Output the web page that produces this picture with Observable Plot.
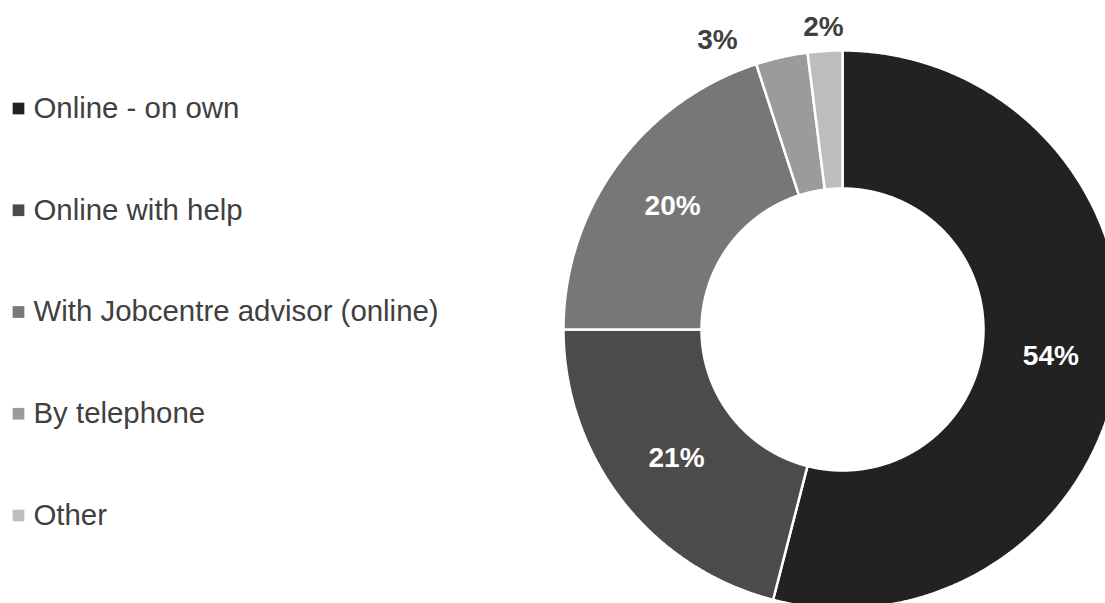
<!DOCTYPE html>
<html><head><meta charset="utf-8">
<script src="https://cdn.jsdelivr.net/npm/d3@7"></script>
<script src="https://cdn.jsdelivr.net/npm/@observablehq/plot@0.6"></script>
<style>body{margin:0;background:#fff;overflow:hidden} svg{display:block}</style>
</head><body><div id="chart"></div>
<script>
// ---- data ----
const categories = ["Online - on own", "Online with help", "With Jobcentre advisor (online)", "By telephone", "Other"];
const shares = [54, 21, 20, 3, 2];
const pctLabels = ["54%", "21%", "20%", "3%", "2%"];
const sliceColors = ["#222222", "#4b4b4b", "#777777", "#9b9b9b", "#bdbdbd"];

// ---- layout ----
const W = 1105, H = 603;
const cx = 842, cy = 329, R = 279, R0 = 141;
const total = d3.sum(shares);
const toXY = (a, r) => [r * Math.sin(a), -r * Math.cos(a)];

// build slices
let acc = 0;
const polys = [];
const labels = [];
shares.forEach((v, i) => {
  const a0 = acc / total * 2 * Math.PI;
  acc += v;
  const a1 = acc / total * 2 * Math.PI;
  const n = Math.max(4, Math.ceil((a1 - a0) / 0.005));
  const pts = [];
  for (let k = 0; k <= n; k++) { const a = a0 + (a1 - a0) * k / n; const [x, y] = toXY(a, R); pts.push({x, y, cat: categories[i], fill: sliceColors[i]}); }
  for (let k = n; k >= 0; k--) { const a = a0 + (a1 - a0) * k / n; const [x, y] = toXY(a, R0); pts.push({x, y, cat: categories[i], fill: sliceColors[i]}); }
  pts.push({...pts[0]});
  polys.push(...pts);
  const am = (a0 + a1) / 2;
  const inside = v >= 10;
  const [lx, ly] = toXY(am, inside ? (R + R0) / 2 : R + 24);
  labels.push({x: lx, y: ly, text: pctLabels[i], inside});
});
// keep outside labels apart horizontally
const outs = labels.filter(d => !d.inside).sort((a, b) => b.x - a.x);
for (let k = 1; k < outs.length; k++) {
  if (outs[k - 1].x - outs[k].x < 100) outs[k].x = outs[k - 1].x - 106;
  outs[k].y += 6;
}

const legend = categories.map((c, i) => ({cat: c, fill: sliceColors[i], x: 18 - cx, y: 108 + i * 101.75 - cy}));

const chart = Plot.plot({
  width: W, height: H,
  margin: 0,
  x: {domain: [-cx, W - cx], range: [0, W], axis: null},
  y: {domain: [H - cy, -cy], range: [H, 0], axis: null},
  style: {fontFamily: "'Liberation Sans', Arial, sans-serif", background: "#fff"},
  marks: [
    Plot.line(polys, {x: "x", y: "y", z: "cat", fill: "fill", stroke: "#ffffff", strokeWidth: 2.5, strokeLinejoin: "miter", clip: true}),
    Plot.text(labels.filter(d => d.inside), {x: "x", y: "y", text: "text", fill: "#ffffff", fontSize: 28, fontWeight: "bold"}),
    Plot.text(labels.filter(d => !d.inside), {x: "x", y: "y", text: "text", fill: "#404040", fontSize: 28, fontWeight: "bold"}),
    Plot.dot(legend, {x: "x", y: "y", symbol: "square", r: 6.6, fill: "fill", stroke: null}),
    Plot.text(legend, {x: d => d.x + 15, y: "y", text: "cat", textAnchor: "start", fill: "#404040", fontSize: 29.4})
  ]
});
document.getElementById("chart").appendChild(chart);
</script>
</body></html>
